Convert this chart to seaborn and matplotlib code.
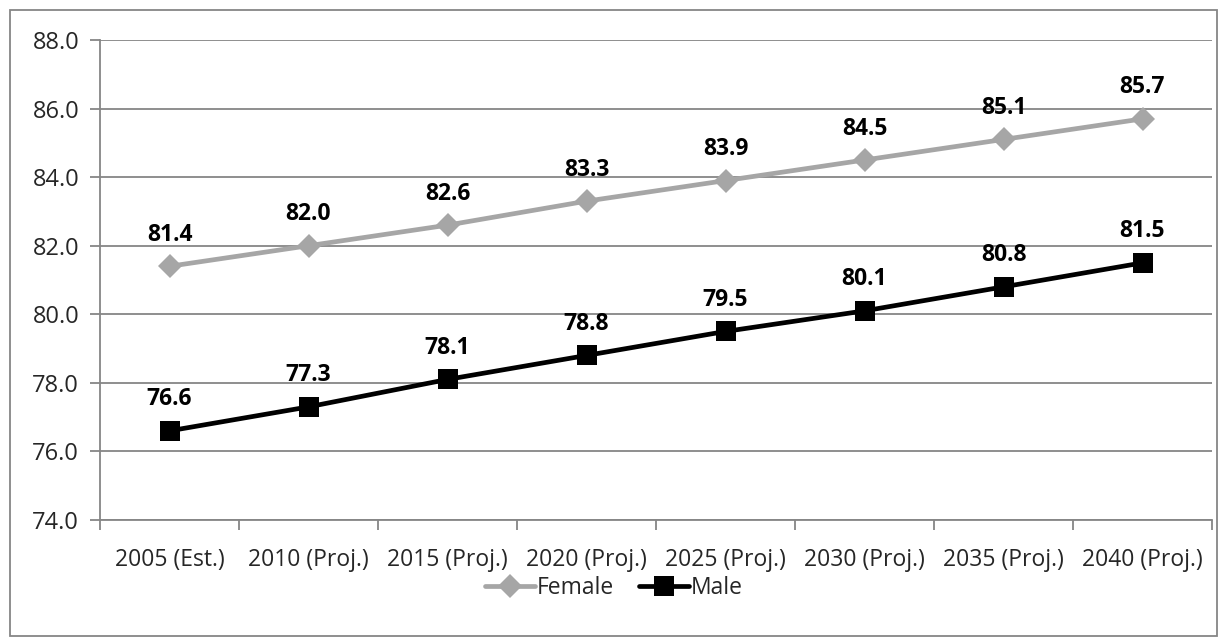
import matplotlib
matplotlib.use("Agg")
import matplotlib.pyplot as plt
from matplotlib.patches import Rectangle
from matplotlib.ticker import FixedLocator, NullFormatter
import seaborn as sns
import pandas as pd

categories = ["2005 (Est.)", "2010 (Proj.)", "2015 (Proj.)", "2020 (Proj.)",
              "2025 (Proj.)", "2030 (Proj.)", "2035 (Proj.)", "2040 (Proj.)"]
female = [81.4, 82.0, 82.6, 83.3, 83.9, 84.5, 85.1, 85.7]
male = [76.6, 77.3, 78.1, 78.8, 79.5, 80.1, 80.8, 81.5]
y_ticks = [74.0, 76.0, 78.0, 80.0, 82.0, 84.0, 86.0, 88.0]

sns.set_style("white")
plt.rcParams["font.family"] = ["Open Sans", "DejaVu Sans"]

df = pd.DataFrame({
    "pos": list(range(len(categories))) * 2,
    "value": female + male,
    "sex": ["Female"] * len(female) + ["Male"] * len(male),
})

fig = plt.figure(figsize=(12.27, 6.44), dpi=100)
ax = fig.add_axes([100 / 1227, 1 - 520 / 644, 1112 / 1227, 480 / 644])

palette = {"Female": "#A6A6A6", "Male": "#000000"}
sns.lineplot(data=df, x="pos", y="value", hue="sex", style="sex",
             palette=palette, markers={"Female": "D", "Male": "s"},
             dashes=False, linewidth=3.4, markersize=10, markeredgewidth=0,
             ax=ax, legend=False)
for line, ms in zip(ax.lines, [12.5, 14]):
    line.set_markersize(ms)

# value labels above each point
for series in (female, male):
    for i, v in enumerate(series):
        ax.annotate(f"{v:.1f}", (i, v), xytext=(0, 14), textcoords="offset points",
                    ha="center", va="bottom", fontsize=16.5, fontweight="bold",
                    color="black")

ax.set_xlim(-0.5, len(categories) - 0.5)
ax.set_ylim(74, 88)
ax.set_yticks(y_ticks)
ax.set_yticklabels([f"{t:.1f}" for t in y_ticks])
ax.yaxis.grid(True, color="#868686", linewidth=1.3)
ax.set_axisbelow(True)

# category labels centred, tick marks on category boundaries
ax.xaxis.set_major_locator(FixedLocator([i - 0.5 for i in range(len(categories) + 1)]))
ax.xaxis.set_major_formatter(NullFormatter())
ax.xaxis.set_minor_locator(FixedLocator(list(range(len(categories)))))
ax.set_xticklabels(categories, minor=True)
ax.tick_params(axis="x", which="major", direction="out", length=7, width=1.3,
               color="#868686", bottom=True)
ax.tick_params(axis="x", which="minor", length=0, pad=20, labelsize=16.5)
ax.tick_params(axis="y", direction="out", length=7, width=1.3, color="#868686",
               left=True, pad=8, labelsize=17)
ax.set_xlabel("")
ax.set_ylabel("")

for side in ("top", "right"):
    ax.spines[side].set_visible(False)
for side in ("left", "bottom"):
    ax.spines[side].set_color("#868686")
    ax.spines[side].set_linewidth(1.3)

handles = [plt.Line2D([], [], color="#A6A6A6", lw=3.4, marker="D", ms=12.5, mew=0),
           plt.Line2D([], [], color="#000000", lw=3.4, marker="s", ms=14, mew=0)]
fig.legend(handles, ["Female", "Male"], loc="center", bbox_to_anchor=(0.5, 1 - 588 / 644),
           ncol=2, frameon=False, fontsize=16.5, handlelength=2.2, handletextpad=0.05,
           columnspacing=1.1)

fig.patches.append(Rectangle((10 / 1227, 8 / 644), 1207 / 1227, 626 / 644,
                             transform=fig.transFigure, fill=False,
                             edgecolor="#868686", linewidth=1.3))

fig.savefig("out.png", dpi=100)
